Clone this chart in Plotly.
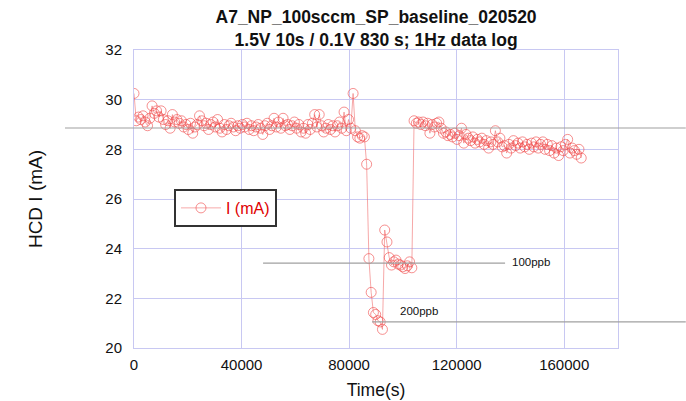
import numpy as np
import plotly.graph_objects as go

# ---- data ----
dt = 840  # s per logged cycle (10 s + 830 s)
current_before = [
    30.25, 29.15, 29.30, 29.20, 29.35, 29.10, 28.95, 29.25, 29.75, 29.45,
    29.55, 29.30, 29.55, 29.20, 29.00, 29.15, 28.85, 29.40, 29.10, 29.20,
    29.05, 29.15, 28.90, 29.00, 28.80, 29.05, 28.65, 28.90, 29.00, 29.35,
    29.15, 28.95, 29.05, 28.80, 29.00, 29.10, 28.90, 29.20, 28.85, 28.70,
    29.00, 28.80, 28.95, 29.05, 28.90, 28.75, 28.95, 28.85, 29.00, 28.90,
    29.05, 28.80, 28.95, 28.75, 28.90, 29.00, 28.85, 28.60, 28.95, 29.05,
    28.80, 28.95, 29.25, 28.90, 29.10, 28.85, 29.25, 28.95, 29.00, 28.80,
    28.95, 29.10, 28.85, 29.00, 28.70, 28.85, 28.65, 29.00, 28.80, 29.05,
    29.40, 28.90, 29.40, 28.95, 28.70, 28.85, 29.00, 28.80, 28.95, 28.70,
    28.95, 29.10, 28.85, 29.50, 28.75, 29.20, 28.85, 30.25, 28.75, 28.50,
    28.45, 28.55, 28.50,
]
current_exposure = [
    27.40, 23.60, 22.24, 21.43, 21.35, 21.10, 21.05, 20.75, 24.75, 24.27,
    23.64, 23.34, 23.47, 23.54, 23.38, 23.34, 23.27, 23.20, 23.31, 23.47,
    23.23,
]
current_after = [
    29.15, 29.05, 29.10, 29.00, 29.10, 28.95, 29.05, 28.65, 29.00, 28.90,
    29.05, 29.10, 28.85, 28.65, 28.70, 28.55, 28.60, 28.50, 28.65, 28.40,
    28.55, 28.85, 28.25, 28.60, 28.45, 28.35, 28.50, 28.25, 28.40, 28.30,
    28.45, 28.20, 28.35, 28.05, 28.30, 28.20, 28.75, 28.30, 28.45, 28.10,
    28.15, 27.85, 28.20, 28.05, 28.35, 28.15, 28.25, 28.05, 28.30, 28.10,
    28.20, 28.00, 28.25, 28.10, 28.30, 28.05, 28.20, 28.30, 28.00, 28.20,
    27.95, 28.15, 27.85, 28.05, 27.75, 28.10, 27.95, 28.20, 28.40, 27.85,
    28.05, 27.95, 27.80, 28.00, 27.65,
]
current = current_before + current_exposure + current_after
time_s = np.arange(len(current)) * dt

baseline_level = 28.86
ppb100_level = 23.42
ppb200_level = 21.05
x_ticks = [0, 40000, 80000, 120000, 160000]
y_ticks = [20, 22, 24, 26, 28, 30, 32]

grid_col = "#c8c8f2"
font_fam = "Liberation Sans, Arial, sans-serif"

fig = go.Figure()
fig.add_trace(go.Scatter(
    x=time_s, y=current, mode="lines+markers", name="I (mA)",
    line=dict(color="rgba(240,110,110,0.6)", width=1),
    marker=dict(symbol="circle-open", size=10,
                color="rgba(240,70,70,0.6)", line=dict(width=1)),
))

shape_col = "#a0a0a0"
fig.add_shape(type="line", xref="paper", yref="y", x0=-0.1426, x1=1.14,
              y0=baseline_level, y1=baseline_level,
              line=dict(color=shape_col, width=1.2))
fig.add_shape(type="line", xref="paper", yref="y", x0=0.4917, x1=1.14,
              y0=ppb200_level, y1=ppb200_level,
              line=dict(color=shape_col, width=1.2))
fig.add_shape(type="line", xref="x", yref="y", x0=48000, x1=138000,
              y0=ppb100_level, y1=ppb100_level,
              line=dict(color=shape_col, width=1.2))

fig.add_annotation(x=140000, y=ppb100_level + 0.05, xref="x", yref="y",
                   text="100ppb", showarrow=False, xanchor="left",
                   font=dict(size=11.5, color="#111", family=font_fam))
fig.add_annotation(x=98000, y=21.5, xref="x", yref="y",
                   text="200ppb", showarrow=False, xanchor="left",
                   font=dict(size=11.5, color="#111", family=font_fam))

fig.update_layout(
    width=686, height=401,
    margin=dict(l=134, r=68, t=50, b=53),
    paper_bgcolor="white", plot_bgcolor="white",
    font=dict(family=font_fam, color="#111"),
    title=dict(
        text="A7_NP_100sccm_SP_baseline_020520<br>1.5V 10s / 0.1V 830 s; 1Hz data log",
        x=0.5482, xanchor="center", y=0.942, yanchor="top",
        font=dict(size=17.5, family=font_fam, weight="bold", color="#111"),
    ),
    showlegend=True,
    legend=dict(x=0.0826, xanchor="left", y=0.5336, yanchor="top",
                bordercolor="#333", borderwidth=2, bgcolor="white",
                itemwidth=40,
                font=dict(size=16, color="#e00000", family=font_fam)),
    xaxis=dict(range=[0, 180000], tickvals=x_ticks,
               ticktext=[str(v) for v in x_ticks], automargin=False,
               showgrid=True, gridcolor=grid_col, zeroline=False,
               showline=True, linecolor=grid_col, mirror=True,
               ticks="outside", ticklen=3, tickcolor="rgba(0,0,0,0)",
               tickfont=dict(size=15, family=font_fam, color="#111"),
               title=dict(text="Time(s)", standoff=11,
                          font=dict(size=17.5, family=font_fam, color="#111"))),
    yaxis=dict(range=[20, 32], tickvals=y_ticks, automargin=False,
               showgrid=True, gridcolor=grid_col, zeroline=False,
               showline=True, linecolor=grid_col, mirror=True,
               ticks="outside", ticklen=8, tickcolor="rgba(0,0,0,0)",
               tickfont=dict(size=15, family=font_fam, color="#111"),
               title=dict(text="HCD I (mA)", standoff=57,
                          font=dict(size=19, family=font_fam, color="#111"))),
)

fig.write_html("out.html")
